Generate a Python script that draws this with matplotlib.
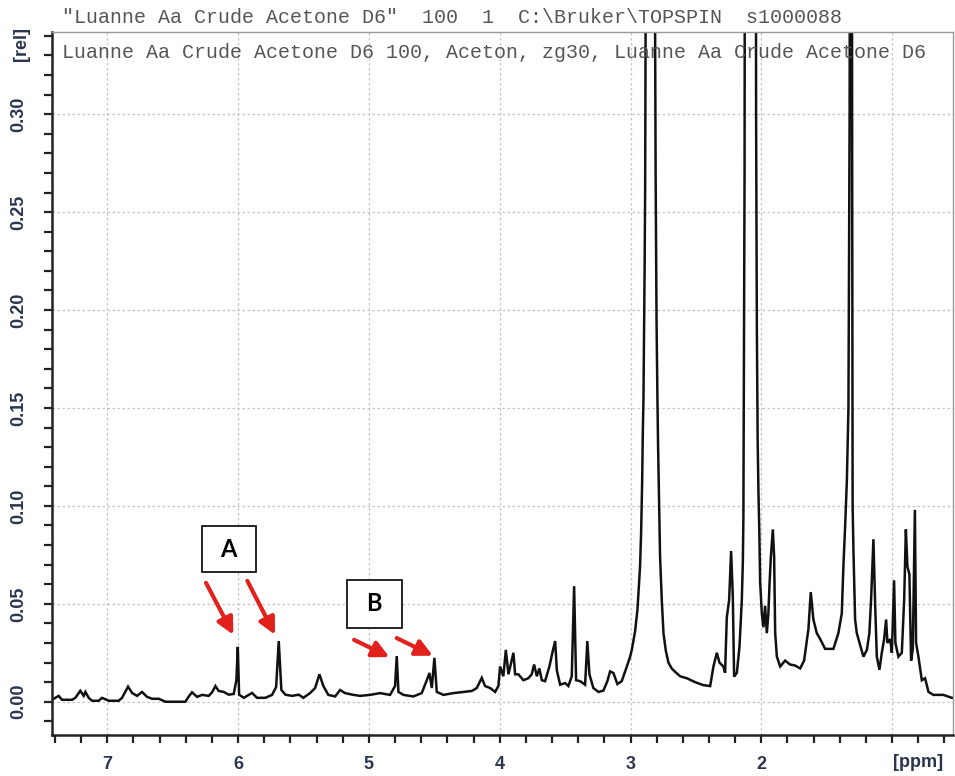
import matplotlib
matplotlib.use("Agg")
import matplotlib.pyplot as plt
from matplotlib.ticker import FixedLocator, MultipleLocator
from matplotlib.patches import Rectangle

# 1H NMR trace: chemical shift (ppm) and relative intensity
ppm = [
    7.422, 7.371, 7.346, 7.269, 7.244, 7.206, 7.180, 7.167, 7.142, 7.116,
    7.065, 7.040, 6.989, 6.912, 6.887, 6.841, 6.810, 6.772, 6.734, 6.696,
    6.657, 6.606, 6.556, 6.403, 6.377, 6.352, 6.313, 6.275, 6.224, 6.199,
    6.173, 6.148, 6.109, 6.071, 6.033, 6.013, 6.002, 5.992, 5.956, 5.931,
    5.893, 5.855, 5.791, 5.740, 5.709, 5.689, 5.669, 5.638, 5.587, 5.536,
    5.501, 5.450, 5.411, 5.378, 5.348, 5.310, 5.258, 5.220, 5.182, 5.118,
    5.067, 4.991, 4.914, 4.838, 4.800, 4.787, 4.774, 4.736, 4.660, 4.596,
    4.557, 4.537, 4.519, 4.499, 4.481, 4.430, 4.354, 4.277, 4.213, 4.175,
    4.137, 4.112, 4.073, 4.035, 4.010,
    3.997, 3.972, 3.953, 3.933, 3.908, 3.895, 3.882, 3.857, 3.819, 3.781,
    3.755, 3.737, 3.716, 3.697, 3.678, 3.653, 3.620, 3.594, 3.576, 3.563,
    3.538, 3.500, 3.475, 3.449, 3.431, 3.416, 3.385, 3.347, 3.330, 3.314,
    3.284, 3.245, 3.207, 3.177, 3.156, 3.131, 3.100, 3.067, 3.028, 3.003,
    2.990, 2.965, 2.947, 2.932, 2.927, 2.919, 2.911, 2.906, 2.901, 2.892,
    2.888, 2.885, 2.850, 2.812, 2.808, 2.804, 2.801, 2.794, 2.789, 2.779,
    2.774, 2.761, 2.748, 2.730, 2.710, 2.685, 2.659, 2.621, 2.570, 2.506,
    2.445, 2.391, 2.366, 2.340, 2.320, 2.290, 2.277, 2.264, 2.246, 2.231,
    2.218, 2.208, 2.187, 2.167, 2.149, 2.141, 2.137, 2.128, 2.120, 2.086,
    2.047, 2.040, 2.034, 2.028, 2.022, 2.015, 2.009, 1.996, 1.984, 1.971,
    1.958, 1.946, 1.938, 1.927, 1.912, 1.902, 1.894, 1.881, 1.856, 1.818,
    1.780, 1.742, 1.703, 1.673, 1.640, 1.622, 1.602, 1.576, 1.550, 1.512,
    1.449, 1.411, 1.385, 1.372, 1.359, 1.346, 1.334, 1.325, 1.313, 1.306,
    1.302, 1.296, 1.283, 1.270, 1.245, 1.219, 1.193, 1.174, 1.161, 1.143,
    1.130, 1.117, 1.097, 1.079, 1.061, 1.046, 1.036, 1.015, 1.002, 0.985,
    0.975, 0.952, 0.926, 0.908, 0.895, 0.883, 0.868, 0.855, 0.842, 0.826,
    0.817, 0.799, 0.773, 0.748, 0.722, 0.684, 0.608, 0.544, 0.534,
]
intensity = [
    0.0010, 0.0030, 0.0010, 0.0010, 0.0020, 0.0056, 0.0030, 0.0050, 0.0020, 0.0005,
    0.0005, 0.0020, 0.0005, 0.0005, 0.0020, 0.0077, 0.0045, 0.0030, 0.0050, 0.0025,
    0.0015, 0.0015, 0.0000, 0.0000, 0.0027, 0.0048, 0.0025, 0.0035, 0.0030, 0.0048,
    0.0080, 0.0055, 0.0050, 0.0036, 0.0040, 0.0110, 0.0280, 0.0036, 0.0020, 0.0030,
    0.0045, 0.0020, 0.0020, 0.0035, 0.0075, 0.0310, 0.0060, 0.0036, 0.0030, 0.0036,
    0.0020, 0.0044, 0.0070, 0.0140, 0.0080, 0.0035, 0.0027, 0.0060, 0.0044, 0.0035,
    0.0030, 0.0035, 0.0044, 0.0035, 0.0080, 0.0233, 0.0050, 0.0035, 0.0027, 0.0044,
    0.0110, 0.0147, 0.0070, 0.0224, 0.0050, 0.0035, 0.0044, 0.0050, 0.0055, 0.0070,
    0.0122, 0.0080, 0.0070, 0.0050, 0.0080,
    0.0180, 0.0130, 0.0265, 0.0140, 0.0214, 0.0250, 0.0140, 0.0140, 0.0110, 0.0120,
    0.0140, 0.0190, 0.0130, 0.0170, 0.0110, 0.0105, 0.0180, 0.0260, 0.0310, 0.0160,
    0.0087, 0.0095, 0.0080, 0.0130, 0.0590, 0.0110, 0.0105, 0.0087, 0.0310, 0.0140,
    0.0070, 0.0050, 0.0057, 0.0105, 0.0155, 0.0147, 0.0090, 0.0105, 0.0180, 0.0230,
    0.0265, 0.0360, 0.0470, 0.0640, 0.0690, 0.0860, 0.1120, 0.1370, 0.1540, 0.2220,
    0.2630, 0.3450, 0.8000, 0.3450, 0.2700, 0.2290, 0.1950, 0.1540, 0.1300, 0.0910,
    0.0740, 0.0520, 0.0350, 0.0260, 0.0200, 0.0170, 0.0153, 0.0130, 0.0120, 0.0100,
    0.0085, 0.0080, 0.0180, 0.0250, 0.0200, 0.0180, 0.0148, 0.0430, 0.0520, 0.0770,
    0.0540, 0.0128, 0.0148, 0.0280, 0.0520, 0.0720, 0.0940, 0.2720, 0.8000, 0.4500,
    0.9000, 0.3000, 0.1900, 0.1340, 0.1070, 0.0860, 0.0610, 0.0450, 0.0380, 0.0490,
    0.0350, 0.0450, 0.0590, 0.0740, 0.0880, 0.0740, 0.0350, 0.0230, 0.0180, 0.0210,
    0.0190, 0.0185, 0.0170, 0.0210, 0.0370, 0.0560, 0.0420, 0.0350, 0.0320, 0.0270,
    0.0270, 0.0350, 0.0450, 0.0700, 0.0900, 0.1130, 0.1500, 0.3000, 0.9000, 0.3000,
    0.1000, 0.0780, 0.0420, 0.0350, 0.0290, 0.0230, 0.0265, 0.0350, 0.0520, 0.0830,
    0.0500, 0.0230, 0.0163, 0.0250, 0.0320, 0.0420, 0.0300, 0.0320, 0.0250, 0.0620,
    0.0300, 0.0230, 0.0250, 0.0520, 0.0880, 0.0690, 0.0650, 0.0210, 0.0270, 0.0980,
    0.0300, 0.0230, 0.0110, 0.0120, 0.0050, 0.0035, 0.0035, 0.0020, 0.0020,
]

x_range = (7.422, 0.534)
y_range = (-0.017, 0.342)
x_major = [7, 6, 5, 4, 3, 2, 1]
x_labels = ["7", "6", "5", "4", "3", "2", ""]
y_major = [0.00, 0.05, 0.10, 0.15, 0.20, 0.25, 0.30]
y_labels = ["0.00", "0.05", "0.10", "0.15", "0.20", "0.25", "0.30"]

header = '"Luanne Aa Crude Acetone D6"  100  1  C:\\Bruker\\TOPSPIN  s1000088'
subtitle = "Luanne Aa Crude Acetone D6 100, Aceton, zg30, Luanne Aa Crude Acetone D6"

# Boxed region labels: (text, ppm_left, ppm_right, y_bottom, y_top)
region_labels = [
    ("A", 6.279, 5.863, 0.0660, 0.0898),
    ("B", 5.169, 4.748, 0.0379, 0.0622),
]
# Pointer arrows: (tail ppm, tail y, head ppm, head y)
pointers = [
    (6.245, 0.0607, 6.036, 0.0342),
    (5.929, 0.0617, 5.717, 0.0342),
    (5.113, 0.0316, 4.843, 0.0228),
    (4.787, 0.0325, 4.511, 0.0235),
]

label_color = "#2c3550"

fig = plt.figure(figsize=(9.55, 7.76), dpi=100)
ax = fig.add_axes([0.0545, 0.0528, 0.9435, 0.906])

ax.plot(ppm, intensity, color="#111111", lw=1.8, solid_joinstyle="miter")
ax.set_xlim(*x_range)
ax.set_ylim(*y_range)

ax.xaxis.set_major_locator(FixedLocator(x_major))
ax.set_xticklabels(x_labels)
ax.xaxis.set_minor_locator(MultipleLocator(0.2))
ax.yaxis.set_major_locator(FixedLocator(y_major))
ax.set_yticklabels(y_labels, rotation=90, va="center")
ax.yaxis.set_minor_locator(MultipleLocator(0.01))

ax.tick_params(axis="both", which="both", direction="out", length=6,
               width=1.6, color="#222222")
ax.tick_params(axis="x", which="major", pad=9, labelsize=13)
ax.tick_params(axis="y", which="major", pad=12, labelsize=13)
for lab in ax.get_xticklabels() + ax.get_yticklabels():
    lab.set_fontweight("bold")
    lab.set_color(label_color)
    lab.set_family("Liberation Sans")

ax.grid(True, which="major", color="#c4c4c4", lw=0.9, linestyle=(0, (2, 2)))
ax.set_axisbelow(True)

for side in ("left", "bottom"):
    ax.spines[side].set_color("#222222")
    ax.spines[side].set_linewidth(1.8)
for side in ("top", "right"):
    ax.spines[side].set_color("#9a9a9a")
    ax.spines[side].set_linewidth(1.0)

ax.text(0.011, 0.984, subtitle, transform=ax.transAxes, ha="left", va="top",
        family="Liberation Mono", fontsize=14.4, color="#555555")
fig.text(0.065, 0.978, header, ha="left", va="center",
         family="Liberation Mono", fontsize=14.4, color="#555555")

fig.text(0.023, 0.943, "[rel]", rotation=90, ha="center", va="center",
         family="Liberation Sans", fontweight="bold", fontsize=13, color=label_color)
fig.text(0.961, 0.0168, "[ppm]", ha="center", va="center",
         family="Liberation Sans", fontweight="bold", fontsize=13, color=label_color)

for text, x0, x1, y0, y1 in region_labels:
    ax.add_patch(Rectangle((x1, y0), x0 - x1, y1 - y0, facecolor="white",
                           edgecolor="black", lw=1.2, zorder=4))
    ax.text((x0 + x1) / 2, (y0 + y1) / 2, text, ha="center", va="center",
            family="Lato", fontweight="bold", fontsize=17, color="black", zorder=5)

for tx, ty, hx, hy in pointers:
    ax.annotate("", xy=(hx, hy), xytext=(tx, ty),
                arrowprops=dict(arrowstyle="-|>,head_length=1.0,head_width=0.5",
                                color="#e3211c", lw=3, shrinkA=0, shrinkB=0),
                zorder=6)

fig.savefig("out.png", dpi=100)
